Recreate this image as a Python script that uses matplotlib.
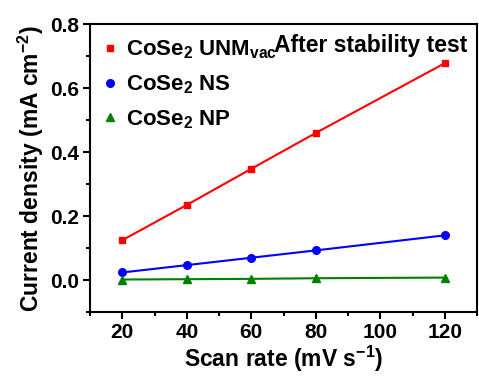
import matplotlib
matplotlib.use('Agg')
import matplotlib.pyplot as plt
from matplotlib.ticker import MultipleLocator

plt.rcParams['font.family'] = ['Liberation Sans', 'DejaVu Sans']
plt.rcParams['font.weight'] = 'bold'
plt.rcParams['mathtext.fontset'] = 'custom'
plt.rcParams['mathtext.rm'] = 'Liberation Sans:bold'
plt.rcParams['mathtext.it'] = 'Liberation Sans:bold'
plt.rcParams['mathtext.bf'] = 'Liberation Sans:bold'
plt.rcParams['mathtext.default'] = 'rm'

scan_rate = [20, 40, 60, 80, 120]
unm_vac = [0.125, 0.235, 0.348, 0.460, 0.678]
ns = [0.024, 0.047, 0.070, 0.093, 0.140]
np_ = [0.002, 0.003, 0.004, 0.006, 0.008]

fig = plt.figure(figsize=(4.79, 3.77), dpi=100)
ax = fig.add_axes([0.188, 0.172, 0.808, 0.764])

ax.plot(scan_rate, unm_vac, '-s', color='#ff0000', ms=5, lw=1.5, label='CoSe$_2$ UNM$_{vac}$')
ax.plot(scan_rate, ns, '-o', color='#0000ff', ms=5.5, lw=1.5, label='CoSe$_2$ NS')
ax.plot(scan_rate, np_, '-^', color='#008000', ms=5.5, lw=1.5, label='CoSe$_2$ NP')

ax.set_xlim(10, 130)
ax.set_ylim(-0.1, 0.8)
ax.xaxis.set_major_locator(MultipleLocator(20))
ax.xaxis.set_minor_locator(MultipleLocator(10))
ax.yaxis.set_major_locator(MultipleLocator(0.2))
ax.yaxis.set_minor_locator(MultipleLocator(0.1))
ax.tick_params(which='both', direction='out', width=1.5, labelsize=15, pad=3)
ax.tick_params(which='major', length=5)
ax.tick_params(which='minor', length=3)
for s in ax.spines.values():
    s.set_linewidth(1.5)

ax.set_xlabel('Scan rate (mV s$^{-1}$)', fontsize=16.5, fontweight='bold', labelpad=1)
ax.set_ylabel('Current density (mA cm$^{-2}$)', fontsize=16.5, fontweight='bold', labelpad=3)

leg = ax.legend(loc='upper left', frameon=False, handlelength=0.5,
                handletextpad=0.45, labelspacing=0.55, borderaxespad=0.3,
                borderpad=0.35, prop={'weight': 'bold', 'size': 16})
for h in leg.legend_handles:
    h.set_linestyle('')

ax.text(0.975, 0.965, 'After stability test', transform=ax.transAxes, ha='right', va='top',
        fontsize=16.5, fontweight='bold')

fig.savefig('out.png', dpi=100, facecolor='white')
